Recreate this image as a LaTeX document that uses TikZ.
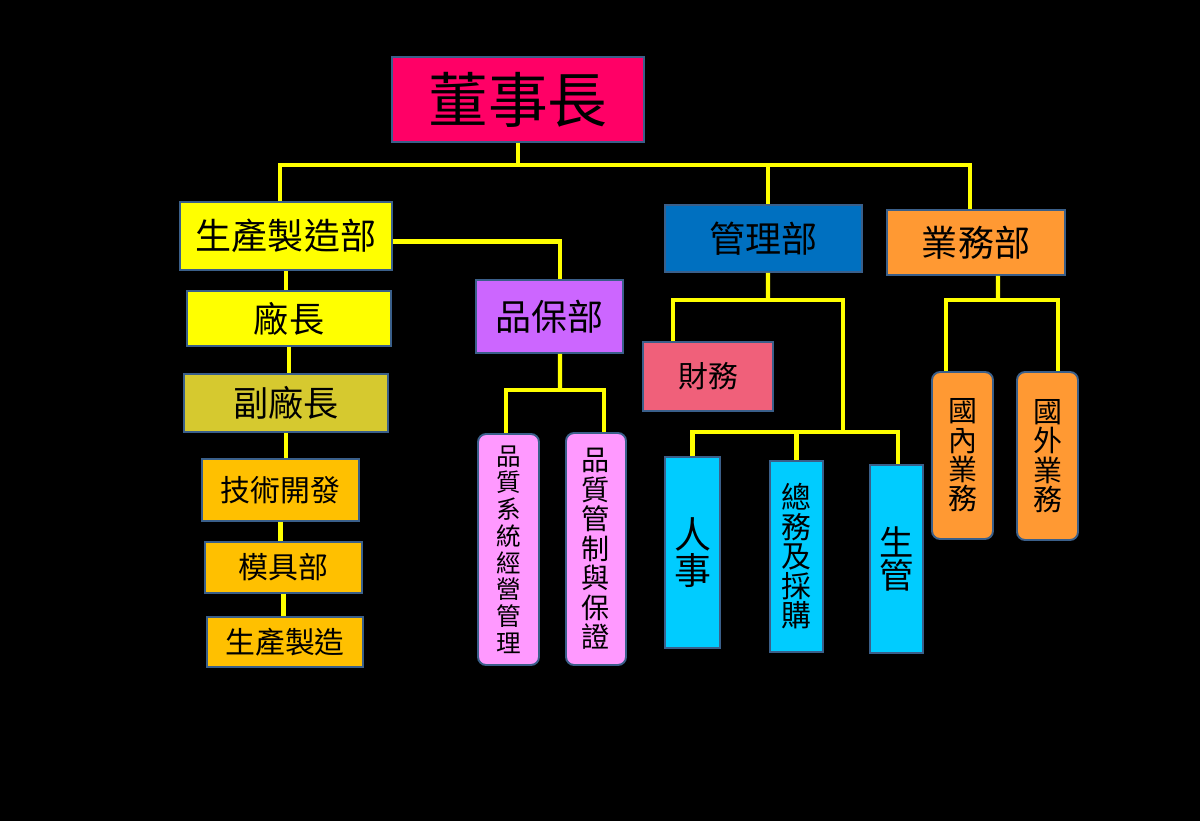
\documentclass[tikz,border=0pt]{standalone}
\usepackage{fontspec}
\newfontfamily\cjk{Noto Sans CJK TC}
\newcommand\fsz[2]{\fontsize{#1}{#2}\selectfont}
\definecolor{chairpink}{HTML}{FF0066}
\definecolor{prodyellow}{HTML}{FFFF00}
\definecolor{viceolive}{HTML}{D6C92F}
\definecolor{workgold}{HTML}{FFC000}
\definecolor{qapurple}{HTML}{CC66FF}
\definecolor{qapink}{HTML}{FF99FF}
\definecolor{mgmtblue}{HTML}{0070C0}
\definecolor{finrose}{HTML}{F0607A}
\definecolor{staffcyan}{HTML}{00CCFF}
\definecolor{salesorange}{HTML}{FF9933}
\definecolor{edgeblue}{HTML}{3A5F8A}
\definecolor{linkyellow}{HTML}{FFFF00}

\begin{document}
\begin{tikzpicture}[x=0.02cm, y=-0.02cm, font=\cjk,
  unit/.style={draw=edgeblue, line width=1.1pt, align=center, inner sep=0pt, text=black},
  pill/.style={unit, rounded corners=0.16cm},
  link/.style={draw=linkyellow, line width=2.3pt},
]
\fill[black] (0,0) rectangle (1200,821);

\node[unit, fill=chairpink, minimum width=5.04cm, minimum height=1.70cm, font=\cjk\fsz{34pt}{40pt}] (chair) at (518,99.5) {董事長};

\node[unit, fill=prodyellow, minimum width=4.24cm, minimum height=1.36cm, font=\cjk\fsz{20.5pt}{24pt}] (prod) at (286,236) {生產製造部};
\node[unit, fill=prodyellow, minimum width=4.08cm, minimum height=1.10cm, font=\cjk\fsz{20pt}{24pt}] (plant) at (289,318.5) {廠長};
\node[unit, fill=viceolive, minimum width=4.08cm, minimum height=1.16cm, font=\cjk\fsz{20pt}{24pt}] (vice) at (286,403) {副廠長};
\node[unit, fill=workgold, minimum width=3.14cm, minimum height=1.24cm, font=\cjk\fsz{17pt}{20pt}] (tech) at (280.5,490) {技術開發};
\node[unit, fill=workgold, minimum width=3.14cm, minimum height=1.02cm, font=\cjk\fsz{17pt}{20pt}] (mold) at (283.5,567.5) {模具部};
\node[unit, fill=workgold, minimum width=3.12cm, minimum height=1.00cm, font=\cjk\fsz{17pt}{20pt}] (mfg) at (285,642) {生產製造};

\node[unit, fill=qapurple, minimum width=2.94cm, minimum height=1.46cm, font=\cjk\fsz{20.5pt}{24pt}] (qa) at (549.5,316.5) {品保部};
\node[pill, fill=qapink, minimum width=1.22cm, minimum height=4.62cm, font=\cjk\fsz{14pt}{15.2pt}] (qasys) at (508.5,549.5) {品\\質\\系\\統\\經\\營\\管\\理};
\node[pill, fill=qapink, minimum width=1.20cm, minimum height=4.64cm, font=\cjk\fsz{16pt}{16.8pt}] (qactl) at (596,549) {品\\質\\管\\制\\與\\保\\證};

\node[unit, fill=mgmtblue, minimum width=3.94cm, minimum height=1.34cm, font=\cjk\fsz{20.5pt}{24pt}] (mgmt) at (763.5,238.5) {管理部};
\node[unit, fill=finrose, minimum width=2.60cm, minimum height=1.38cm, font=\cjk\fsz{17pt}{20pt}] (fin) at (708,376.5) {財務};
\node[unit, fill=staffcyan, minimum width=1.10cm, minimum height=3.82cm, font=\cjk\fsz{21pt}{18pt}] (hr) at (692.5,552.5) {人\\事};
\node[unit, fill=staffcyan, minimum width=1.06cm, minimum height=3.82cm, font=\cjk\fsz{17pt}{16.8pt}] (ga) at (796.5,556.5) {總\\務\\及\\採\\購};
\node[unit, fill=staffcyan, minimum width=1.06cm, minimum height=3.76cm, font=\cjk\fsz{19.5pt}{19pt}] (pc) at (896.5,559) {生\\管};

\node[unit, fill=salesorange, minimum width=3.56cm, minimum height=1.30cm, font=\cjk\fsz{20.5pt}{24pt}] (sales) at (976,242.5) {業務部};
\node[pill, fill=salesorange, minimum width=1.22cm, minimum height=3.34cm, font=\cjk\fsz{16.5pt}{16.7pt}] (dom) at (962.5,455.5) {國\\內\\業\\務};
\node[pill, fill=salesorange, minimum width=1.22cm, minimum height=3.36cm, font=\cjk\fsz{16.5pt}{16.7pt}] (intl) at (1047.5,456) {國\\外\\業\\務};

\coordinate (topbus) at (518,165);
\coordinate (qabus) at (560,390);
\coordinate (mgbus) at (768,300);
\coordinate (mgdrop) at (843,432);
\coordinate (slbus) at (998,300);

\draw[link] (chair.south) -- (topbus);
\draw[link] ([xshift=-0.12cm]prod.north) |- (topbus) -| ([xshift=-0.12cm]sales.north);
\draw[link] (topbus) -| ([xshift=0.09cm]mgmt.north);

\draw[link] (prod.south) -- (prod.south |- plant.north);
\draw[link] (plant.south) -- (plant.south |- vice.north);
\draw[link] (vice.south) -- (vice.south |- tech.north);
\draw[link] (tech.south) -- (tech.south |- mold.north);
\draw[link] (mold.south) -- (mold.south |- mfg.north);

\draw[link] ([yshift=-0.11cm]prod.east) -| ([xshift=0.21cm]qa.north);
\draw[link] ([xshift=0.21cm]qa.south) -- (qabus);
\draw[link] ([xshift=-0.05cm]qasys.north) |- (qabus) -| ([xshift=0.16cm]qactl.north);

\draw[link] ([xshift=0.09cm]mgmt.south) -- (mgbus);
\draw[link] ([xshift=-0.7cm]fin.north) |- (mgbus) -| (mgdrop);
\draw[link] (hr.north) |- (mgdrop) -| ([xshift=0.03cm]pc.north);
\draw[link] (ga.north) -- (ga.north |- mgdrop);

\draw[link] ([xshift=0.44cm]sales.south) -- (slbus);
\draw[link] ([xshift=-0.33cm]dom.north) |- (slbus) -| ([xshift=0.21cm]intl.north);
\end{tikzpicture}
\end{document}
